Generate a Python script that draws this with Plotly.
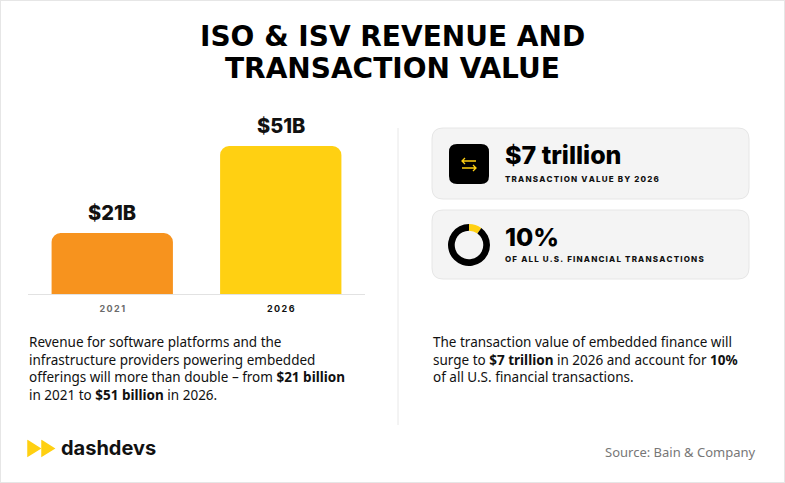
import plotly.graph_objects as go

W, H = 785, 483

# data
years = ["2021", "2026"]
revenue = [21, 51]  # $B
revenue_labels = ["$21B", "$51B"]
bar_colors = ["#F7931E", "#FFD012"]
tick_colors = ["#6b6b6b", "#111111"]

share_values = [10, 90]  # % of all U.S. financial transactions
share_colors = ["#FFD012", "#000000"]

title_lines = ["ISO & ISV REVENUE AND", "TRANSACTION VALUE"]

YELLOW = "#FFD012"
THIN = "\u2009"


def px(x):
    return x / W


def py(y):
    return 1 - y / H


def spaced(s):
    return THIN.join(s)


def rounded_rect(x0, y0, x1, y1, r):
    # pixel coords in, paper path out
    pts = [
        f"M {px(x0 + r)} {py(y0)}",
        f"L {px(x1 - r)} {py(y0)}",
        f"Q {px(x1)} {py(y0)} {px(x1)} {py(y0 + r)}",
        f"L {px(x1)} {py(y1 - r)}",
        f"Q {px(x1)} {py(y1)} {px(x1 - r)} {py(y1)}",
        f"L {px(x0 + r)} {py(y1)}",
        f"Q {px(x0)} {py(y1)} {px(x0)} {py(y1 - r)}",
        f"L {px(x0)} {py(y0 + r)}",
        f"Q {px(x0)} {py(y0)} {px(x0 + r)} {py(y0)}",
        "Z",
    ]
    return " ".join(pts)


fig = go.Figure()

fig.add_trace(go.Bar(
    x=years, y=revenue,
    marker=dict(color=bar_colors, cornerradius=9, line=dict(width=0)),
    width=0.72, hoverinfo="skip", showlegend=False,
))

# donut for the 10% card
fig.add_trace(go.Pie(
    values=share_values, marker=dict(colors=share_colors, line=dict(width=0)),
    hole=0.68, sort=False, direction="clockwise", rotation=0,
    textinfo="none", hoverinfo="skip", showlegend=False,
    domain=dict(x=[px(448), px(490)], y=[py(266), py(224)]),
))

ticktext = [f"<span style='color:{c}'>{spaced(y)}</span>" for y, c in zip(years, tick_colors)]

fig.update_layout(
    width=W, height=H,
    margin=dict(l=0, r=0, t=0, b=0),
    paper_bgcolor="white", plot_bgcolor="white",
    font=dict(family="Noto Sans", color="#111"),
    xaxis=dict(type="category", domain=[px(28), px(365)], range=[-0.5, 1.5], showgrid=False,
               zeroline=False, showline=True, linecolor="#e2e2e2", linewidth=1, layer="below traces",
               tickvals=years, ticktext=ticktext, ticks="", ticklabelstandoff=6,
               tickfont=dict(family="Inter", size=9, weight=700), fixedrange=True),
    yaxis=dict(domain=[py(294), py(100)], range=[0, 66.9], visible=False, fixedrange=True),
    bargap=0.28,
)

# value labels over bars (category index on x)
for i, (v, lab) in enumerate(zip(revenue, revenue_labels)):
    fig.add_annotation(x=i, y=v, xref="x", yref="y", text=lab, showarrow=False,
                       yanchor="bottom", yshift=6,
                       font=dict(family="Inter", size=20, weight=800, color="#111"))

# title, two lines set tighter than the default line height
for line, ypos in zip(title_lines, [36, 69]):
    fig.add_annotation(x=0.5, y=py(ypos), xref="paper", yref="paper", showarrow=False,
                       text=line, xanchor="center", yanchor="middle",
                       font=dict(family="DejaVu Sans", size=28, weight=700, color="#000"))

# border, divider, cards
shapes = [
    dict(type="rect", xref="paper", yref="paper", x0=0, y0=0, x1=1, y1=1,
         line=dict(color="#e6e6e6", width=2), fillcolor="rgba(0,0,0,0)"),
    dict(type="line", xref="paper", yref="paper", x0=px(398), x1=px(398), y0=py(128), y1=py(425),
         line=dict(color="#e8e8e8", width=1)),
    dict(type="path", xref="paper", yref="paper", path=rounded_rect(432, 128, 749, 199, 11),
         fillcolor="#f4f4f4", line=dict(color="#e6e6e6", width=1), layer="below"),
    dict(type="path", xref="paper", yref="paper", path=rounded_rect(432, 210, 749, 279, 11),
         fillcolor="#f4f4f4", line=dict(color="#e6e6e6", width=1), layer="below"),
    # icon square
    dict(type="path", xref="paper", yref="paper", path=rounded_rect(449, 144, 489, 184, 8),
         fillcolor="#000", line=dict(width=0)),
    # arrows
    dict(type="path", xref="paper", yref="paper",
         path=f"M {px(476)} {py(161)} L {px(462)} {py(161)} M {px(465)} {py(158)} L {px(462)} {py(161)} L {px(465)} {py(164)}",
         line=dict(color=YELLOW, width=1.3)),
    dict(type="path", xref="paper", yref="paper",
         path=f"M {px(462)} {py(168)} L {px(476)} {py(168)} M {px(473)} {py(165)} L {px(476)} {py(168)} L {px(473)} {py(171)}",
         line=dict(color=YELLOW, width=1.3)),
    # logo triangles
    dict(type="path", xref="paper", yref="paper",
         path=f"M {px(28)} {py(441)} L {px(40)} {py(448.5)} L {px(28)} {py(456)} Z",
         fillcolor=YELLOW, line=dict(color=YELLOW, width=1.5)),
    dict(type="path", xref="paper", yref="paper",
         path=f"M {px(42)} {py(441)} L {px(54)} {py(448.5)} L {px(42)} {py(456)} Z",
         fillcolor=YELLOW, line=dict(color=YELLOW, width=1.5)),
]
fig.update_layout(shapes=shapes)

# card texts
fig.add_annotation(x=px(503), y=py(155), xref="paper", yref="paper", showarrow=False,
                   text="$7 trillion", xanchor="left", yanchor="middle",
                   font=dict(family="Inter", size=25, weight=800, color="#000"))
fig.add_annotation(x=px(503), y=py(179), xref="paper", yref="paper", showarrow=False,
                   text=spaced("TRANSACTION VALUE BY 2026"), xanchor="left", yanchor="middle",
                   font=dict(family="Inter", size=8, weight=800, color="#111"))
fig.add_annotation(x=px(503), y=py(237), xref="paper", yref="paper", showarrow=False,
                   text="10%", xanchor="left", yanchor="middle",
                   font=dict(family="Inter", size=25, weight=800, color="#000"))
fig.add_annotation(x=px(503), y=py(259), xref="paper", yref="paper", showarrow=False,
                   text=spaced("OF ALL U.S. FINANCIAL TRANSACTIONS"), xanchor="left", yanchor="middle",
                   font=dict(family="Inter", size=8, weight=800, color="#111"))

# body texts
left_text = ("Revenue for software platforms and the<br>"
             "infrastructure providers powering embedded<br>"
             "offerings will more than double \u2013 from <b>$21 billion</b><br>"
             "in 2021 to <b>$51 billion</b> in 2026.")
right_text = ("The transaction value of embedded finance will<br>"
              "surge to <b>$7 trillion</b> in 2026 and account for <b>10%</b><br>"
              "of all U.S. financial transactions.")
fig.add_annotation(x=px(27), y=py(331), xref="paper", yref="paper", showarrow=False,
                   text=left_text, xanchor="left", yanchor="top", align="left",
                   font=dict(family="Noto Sans", size=13.5, color="#111"))
fig.add_annotation(x=px(431), y=py(331), xref="paper", yref="paper", showarrow=False,
                   text=right_text, xanchor="left", yanchor="top", align="left",
                   font=dict(family="Noto Sans", size=13.5, color="#111"))

# logo + source
fig.add_annotation(x=px(59), y=py(448), xref="paper", yref="paper", showarrow=False,
                   text="dashdevs", xanchor="left", yanchor="middle",
                   font=dict(family="Inter", size=20, weight=700, color="#111"))
fig.add_annotation(x=px(758), y=py(452), xref="paper", yref="paper", showarrow=False,
                   text="Source: Bain & Company", xanchor="right", yanchor="middle",
                   font=dict(family="Noto Sans", size=13, color="#777"))

# page body has a default 8px margin; drop it so the figure sits at 0,0
fig.write_html("out.html", config={"displayModeBar": False},
               post_script="document.body.style.margin='0';")
